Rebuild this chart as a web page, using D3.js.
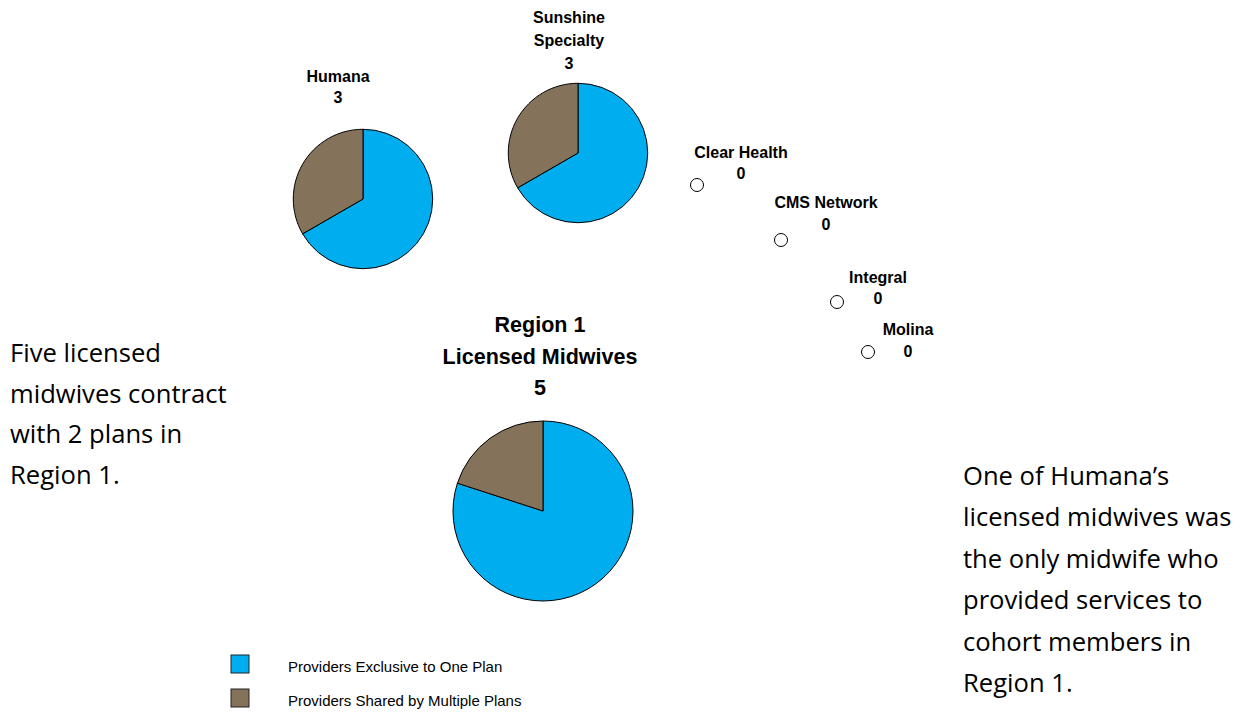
<!DOCTYPE html>
<html><head><meta charset="utf-8">
<script src="https://cdn.jsdelivr.net/npm/d3@7"></script>
<style>body{margin:0;background:#fff}svg{display:block}</style>
</head><body>
<svg id="chart" width="1246" height="715"></svg>
<script>
// ---- data ----
const plans = ["Humana", "Sunshine Specialty", "Clear Health", "CMS Network", "Integral", "Molina"];
const exclusiveProviders = [2, 2, 0, 0, 0, 0];
const sharedProviders = [1, 1, 0, 0, 0, 0];
const planTotals = [3, 3, 0, 0, 0, 0];
const regionName = "Region 1";
const regionTitle = "Licensed Midwives";
const regionExclusive = 4;
const regionShared = 1;
const regionTotal = 5;
const seriesNames = ["Providers Exclusive to One Plan", "Providers Shared by Multiple Plans"];
const leftNote = ["Five licensed", "midwives contract", "with 2 plans in", "Region 1."];
const rightNote = ["One of Humana\u2019s", "licensed midwives was", "the only midwife who", "provided services to", "cohort members in", "Region 1."];

// ---- layout (positions only) ----
const planCenters = [[363, 199], [578, 153], [697, 185], [781, 240], [837, 302], [868, 352]];
const planLabelPos = [[338, 82, 21], [569, 23, 23], [741, 158, 21], [826, 208, 22], [878, 283, 21], [908, 335, 22]];
const regionCenter = [543, 511];
const colors = d3.scaleOrdinal().domain(seriesNames).range(["#00AEEF", "#85725A"]);

const svg = d3.select("#chart");
const rScale = d3.scaleSqrt().domain([0, regionTotal]).range([0, 90]);
const pie = d3.pie().sort(null).value(d => d.v);
const boldFont = "'Liberation Sans', Arial, sans-serif";

function drawPie(g, total, values) {
  const r = rScale(total);
  if (total === 0) {
    g.append("circle").attr("r", 6.5).attr("fill", "#fff").attr("stroke", "#000").attr("stroke-width", 1);
    return;
  }
  const arc = d3.arc().innerRadius(0).outerRadius(r);
  g.selectAll("path").data(pie(values.map((v, i) => ({v, k: seriesNames[i]}))))
    .join("path").attr("d", arc).attr("fill", d => colors(d.data.k))
    .attr("stroke", "#000").attr("stroke-width", 1).attr("stroke-linejoin", "round");
}

plans.forEach((p, i) => {
  const g = svg.append("g").attr("transform", `translate(${planCenters[i][0]},${planCenters[i][1]})`);
  drawPie(g, planTotals[i], [exclusiveProviders[i], sharedProviders[i]]);
  const [lx, ly, lh] = planLabelPos[i];
  const words = p === "Sunshine Specialty" ? ["Sunshine", "Specialty"] : [p];
  const lines = words.concat([String(planTotals[i])]);
  const t = svg.append("text").attr("text-anchor", "middle").attr("font-family", boldFont)
    .attr("font-weight", "bold").attr("font-size", 16).attr("fill", "#000");
  lines.forEach((l, j) => t.append("tspan").attr("x", lx).attr("y", ly + j * lh).text(l));
});

// region pie
const rg = svg.append("g").attr("transform", `translate(${regionCenter[0]},${regionCenter[1]})`);
drawPie(rg, regionTotal, [regionExclusive, regionShared]);
const rt = svg.append("text").attr("text-anchor", "middle").attr("font-family", boldFont)
  .attr("font-weight", "bold").attr("font-size", 21.5).attr("fill", "#000");
[regionName, regionTitle, String(regionTotal)].forEach((l, j) =>
  rt.append("tspan").attr("x", 540).attr("y", 332 + j * 31.5).text(l));

// legend
const leg = svg.append("g");
seriesNames.forEach((s, i) => {
  leg.append("rect").attr("x", 231).attr("y", 655 + i * 34).attr("width", 18).attr("height", 18)
    .attr("fill", colors(s)).attr("stroke", "#222").attr("stroke-width", 1);
  leg.append("text").attr("x", 288).attr("y", 672 + i * 34).attr("font-family", "'Liberation Sans', Arial, sans-serif")
    .attr("font-size", 15).attr("fill", "#000").text(s);
});

// notes
const noteFont = "'Open Sans', 'Noto Sans', sans-serif";
const ln = svg.append("text").attr("font-family", noteFont).attr("font-size", 25.6).attr("fill", "#000");
leftNote.forEach((l, j) => ln.append("tspan").attr("x", 10).attr("y", 362 + j * 40.7).text(l));
const rn = svg.append("text").attr("font-family", noteFont).attr("font-size", 25.6).attr("fill", "#000");
rightNote.forEach((l, j) => rn.append("tspan").attr("x", 963).attr("y", 485 + j * 41.4).text(l));
</script>
</body></html>
